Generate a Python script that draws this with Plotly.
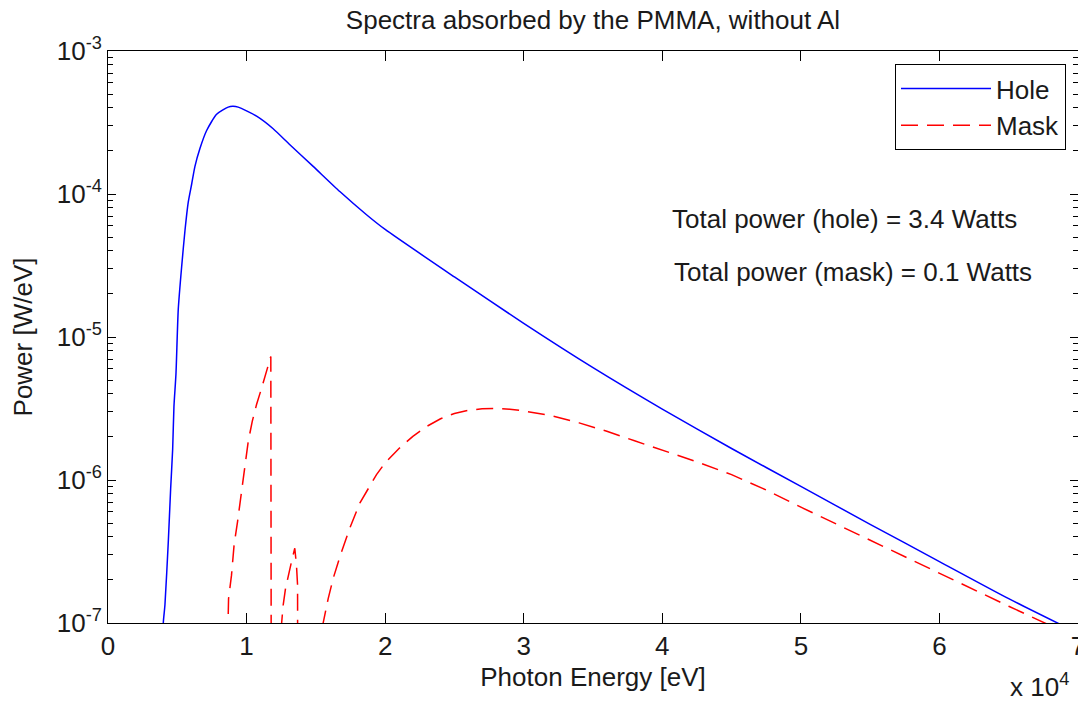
import plotly.graph_objects as go

# ---- data ----
hole_energy = [3950, 3990, 4110, 4349, 4522, 4666, 4759, 4904, 5070, 5315, 5553, 5791,
               6036, 6274, 6634, 7118, 7839, 8675, 9000, 9396, 10723, 11920, 13125,
               14805, 16731, 18656, 20000, 25000, 30000, 35000, 40000, 45000, 50000,
               55000, 60000, 65000, 70000]
hole_power = [5e-8, 1.0e-7, 1.34e-7, 3.66e-7, 8.71e-7, 1.64e-6, 3.27e-6, 5.51e-6, 1.56e-5,
              3.10e-5, 5.53e-5, 8.77e-5, 1.17e-4, 1.56e-4, 2.08e-4, 2.78e-4, 3.61e-4,
              4.05e-4, 4.10e-4, 4.05e-4, 3.50e-4, 2.86e-4, 2.21e-4, 1.56e-4, 1.04e-4,
              7.16e-5, 5.65e-5, 2.63e-5, 1.245e-5, 6.10e-6, 3.13e-6, 1.66e-6, 9.02e-7,
              4.90e-7, 2.69e-7, 1.48e-7, 8.5e-8]

mask_energy = [8600, 8660, 8700, 8913, 9100, 9350, 9590, 9880, 10120, 10410, 10720, 11090,
               11370, 11750, 11800,
               12480, 12530, 12640, 12810, 13000, 13240, 13480, 13600, 13680, 13700,
               15400, 15526, 15890, 16250, 16731, 17451, 18173, 19377, 20000, 21000,
               22000, 23000, 24000, 25000, 26000, 27000, 28000, 29000, 30000, 32000,
               34000, 36000, 38000, 40000, 42500, 45000, 47500, 50000, 55000, 60000,
               65000, 70000]
mask_power = [5e-8, 9e-8, 1.48e-7, 2.16e-7, 3.52e-7, 5.12e-7, 7.87e-7, 1.21e-6, 1.86e-6,
              2.57e-6, 3.37e-6, 4.41e-6, 5.47e-6, 7.3e-6, 1e-9,
              5e-8, 1.0e-7, 1.33e-7, 1.74e-7, 2.16e-7, 2.68e-7, 3.33e-7, 2.54e-7, 1.84e-7, 1e-9,
              5e-8, 1.0e-7, 1.48e-7, 2.05e-7, 2.90e-7, 4.61e-7, 6.90e-7, 1.09e-6, 1.32e-6,
              1.66e-6, 2.02e-6, 2.37e-6, 2.68e-6, 2.92e-6, 3.07e-6, 3.15e-6, 3.17e-6,
              3.13e-6, 3.04e-6, 2.82e-6, 2.51e-6, 2.19e-6, 1.88e-6, 1.61e-6, 1.34e-6,
              1.09e-6, 8.51e-7, 6.46e-7, 3.78e-7, 2.22e-7, 1.31e-7, 7.8e-8]

x_tick_values = [0, 10000, 20000, 30000, 40000, 50000, 60000, 70000]
x_tick_labels = ["0", "1", "2", "3", "4", "5", "6", "7"]
y_tick_values = [1e-7, 1e-6, 1e-5, 1e-4, 1e-3]
y_tick_labels = ["10<sup>-7</sup>", "10<sup>-6</sup>", "10<sup>-5</sup>",
                 "10<sup>-4</sup>", "10<sup>-3</sup>"]
y_minor_values = [m * 10.0 ** e for e in range(-7, -3) for m in range(2, 10)]

title_text = "Spectra absorbed by the PMMA, without Al"
x_title = "Photon Energy [eV]"
y_title = "Power [W/eV]"
note_hole = "Total power (hole) = 3.4 Watts"
note_mask = "Total power (mask) = 0.1 Watts"

FONT = "Arial, 'Liberation Sans', Helvetica, sans-serif"
TXT = "#1a1a1a"

fig = go.Figure()
fig.add_trace(go.Scatter(x=hole_energy, y=hole_power, mode="lines", name="Hole",
                         line=dict(color="#0000ff", width=1.5, shape="spline", smoothing=0.6)))
fig.add_trace(go.Scatter(x=mask_energy, y=mask_power, mode="lines", name="Mask",
                         line=dict(color="#ff0000", width=1.5, dash="17px,9px")))

fig.update_layout(
    width=1078, height=705,
    margin=dict(l=108, r=0, t=51, b=82, autoexpand=False),
    paper_bgcolor="white", plot_bgcolor="white",
    font=dict(family=FONT, size=26, color=TXT),
    title=dict(text=title_text, x=0.5, xref="paper", xanchor="center",
               y=1 - 20 / 705, yref="container", yanchor="middle",
               font=dict(size=26, color=TXT)),
    showlegend=True,
    legend=dict(x=(1066 - 108) / 970, xanchor="right", y=(623 - 64) / 572, yanchor="top",
                bgcolor="white", bordercolor="#000000", borderwidth=1,
                itemwidth=90,
                font=dict(size=26, color=TXT), tracegroupgap=0),
)

fig.update_xaxes(
    range=[0, 70000], tickmode="array", tickvals=x_tick_values, ticktext=x_tick_labels,
    ticks="inside", ticklen=10, tickwidth=1, tickcolor="#000000",
    showline=True, linecolor="#000000", linewidth=1, mirror="ticks",
    showgrid=False, zeroline=False, ticklabeloverflow="allow", automargin=False,
    tickfont=dict(size=26, color=TXT),
    title=dict(text=x_title, font=dict(size=26, color=TXT), standoff=7),
)
fig.update_yaxes(
    type="log", range=[-7, -3], tickmode="array", tickvals=y_tick_values,
    ticktext=y_tick_labels, automargin=False,
    ticks="inside", ticklen=8, tickwidth=1, tickcolor="#000000",
    minor=dict(tickmode="array", tickvals=y_minor_values, ticks="inside",
               ticklen=5, tickwidth=1, tickcolor="#000000", showgrid=False),
    showline=True, linecolor="#000000", linewidth=1, mirror="ticks",
    showgrid=False, zeroline=False,
    tickfont=dict(size=26, color=TXT),
    title=dict(text=y_title, font=dict(size=26, color=TXT), standoff=16),
)

fig.add_annotation(text=note_hole, xref="paper", yref="paper",
                   x=(670 - 108) / 970, y=(623 - 219) / 572, xanchor="left",
                   yanchor="middle", showarrow=False, font=dict(size=26, color=TXT))
fig.add_annotation(text=note_mask, xref="paper", yref="paper",
                   x=(672 - 108) / 970, y=(623 - 272) / 572, xanchor="left",
                   yanchor="middle", showarrow=False, font=dict(size=26, color=TXT))
fig.add_annotation(text="x 10<sup>4</sup>", xref="paper", yref="paper",
                   x=(1008 - 108) / 970, y=(623 - 704) / 572, xanchor="left",
                   yanchor="bottom", showarrow=False, font=dict(size=26, color=TXT))

fig.write_html("out.html")
